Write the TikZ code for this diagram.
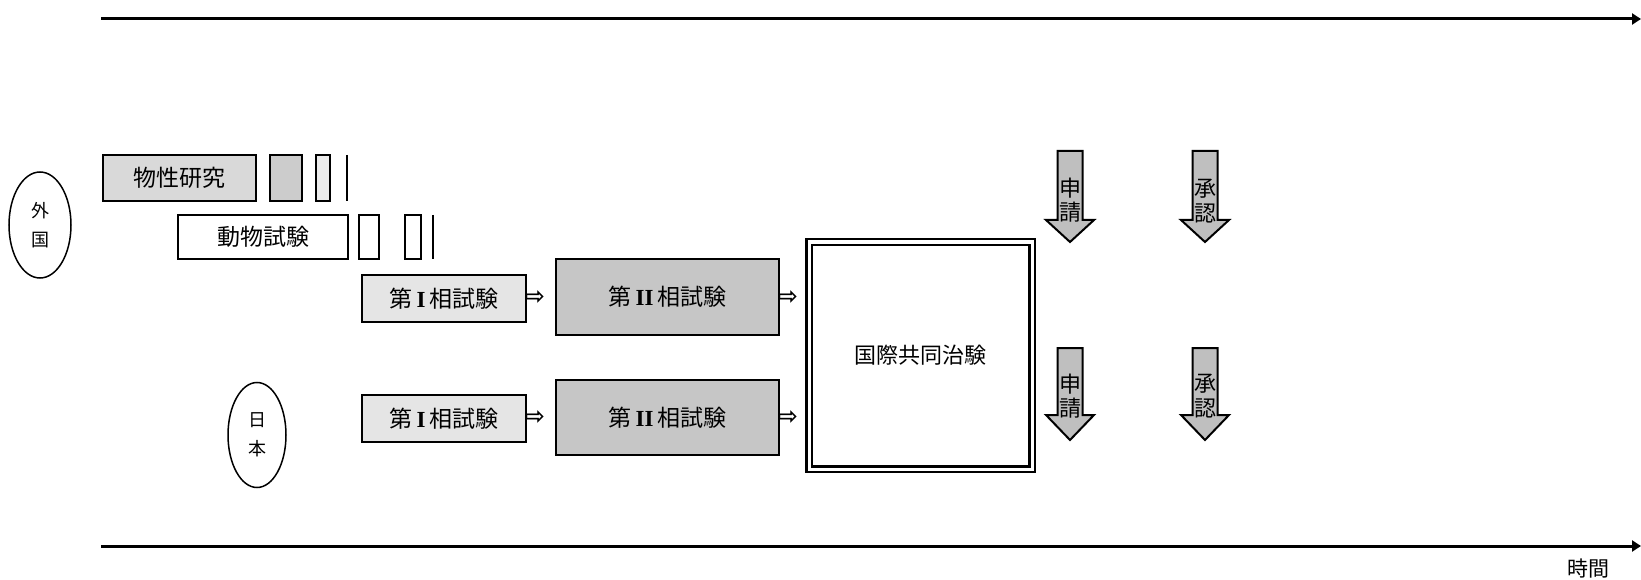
\documentclass[tikz,border=0pt]{standalone}
\usepackage{fontspec}
\setmainfont{Noto Sans CJK JP}
\newfontfamily\dejavu{DejaVu Sans}
\newfontfamily\romanfont{Liberation Serif}
\usetikzlibrary{arrows.meta,shapes.geometric}
\newcommand{\RI}{{\romanfont\bfseries I}}
\newcommand{\RII}{{\romanfont\bfseries II}}
\begin{document}
\begin{tikzpicture}[x=1pt,y=-1pt,
  box/.style={draw,line width=2pt,inner sep=0pt,font=\fontsize{23}{23}\selectfont},
  slim/.style={draw,line width=2pt,inner sep=0pt},
  oval/.style={draw,ellipse,line width=1.5pt,inner sep=0pt,align=center,font=\fontsize{18}{29}\selectfont},
  hollow/.style={inner sep=0pt,font=\dejavu\bfseries\fontsize{24}{24}\selectfont},
  axis/.style={line width=3pt,-{Triangle[length=9pt,width=11pt]}},
  downarrow/.style={draw,line width=2pt,fill=gray!50,line join=miter},
  arrowtext/.style={inner sep=0pt,font=\fontsize{22}{22}\selectfont}
]
\useasboundingbox (0,0) rectangle (1641,580);

% time axes
\coordinate (ta) at (101,19);
\coordinate (tb) at (1641,19);
\coordinate (ba) at (101,546);
\coordinate (bb) at (1641,546);
\draw[axis] (ta) -- (tb);
\draw[axis] (ba) -- (bb);
\node[font=\fontsize{21}{21}\selectfont,inner sep=0pt] (time) at (1588,569) {時間};

% country ovals
\node[oval,minimum width=62pt,minimum height=106pt] (gaikoku) at (40,225) {外\\国};
\node[oval,minimum width=58pt,minimum height=105pt] (nihon) at (257,435) {日\\本};

% foreign preclinical
\node[box,fill=gray!30,minimum width=153pt,minimum height=46pt] (bussei) at (179.5,178) {物性研究};
\node[slim,fill=gray!40,minimum width=32pt,minimum height=46pt] (bs1) at (286,178) {};
\node[slim,fill=gray!15,minimum width=14pt,minimum height=46pt] (bs2) at (323,178) {};
\draw[line width=2pt] (347,155) -- (347,201);

\node[box,minimum width=170pt,minimum height=44pt] (doubutsu) at (263,237) {動物試験};
\node[slim,minimum width=20pt,minimum height=44pt] (ds1) at (369,237) {};
\node[slim,minimum width=16pt,minimum height=44pt] (ds2) at (413,237) {};
\draw[line width=2pt] (433,215) -- (433,259);

% foreign phases
\node[box,fill=gray!20,minimum width=164pt,minimum height=47pt] (p1a) at (444,298.5) {第\,\RI\,相試験};
\node[hollow] (ha1) at (535,298) {⇨};
\node[box,fill=gray!45,minimum width=223pt,minimum height=76pt] (p2a) at (667.5,297) {第\,\RII\,相試験};
\node[hollow] (ha2) at (788,298) {⇨};

% japanese phases
\node[box,fill=gray!20,minimum width=164pt,minimum height=47pt] (p1b) at (444,418.5) {第\,\RI\,相試験};
\node[hollow] (hb1) at (535,418) {⇨};
\node[box,fill=gray!45,minimum width=223pt,minimum height=75pt] (p2b) at (667.5,417.5) {第\,\RII\,相試験};
\node[hollow] (hb2) at (788,418) {⇨};

% international joint trial
\node[draw,line width=2.5pt,double=white,double distance=3pt,minimum width=223pt,minimum height=227pt,
      inner sep=0pt,font=\fontsize{22}{22}\selectfont] (kokusai) at (920.5,355.5) {国際共同治験};

% down arrows
\foreach \cx/\ty/\by/\tip in {1070/151/220/242, 1205/151/220/242, 1070/348/415/440, 1205/348/415/440}{
  \draw[downarrow] (\cx-12.5,\ty) -- (\cx+12.5,\ty) -- (\cx+12.5,\by) -- (\cx+24,\by) -- (\cx,\tip)
     -- (\cx-24,\by) -- (\cx-12.5,\by) -- cycle;
}
\node[arrowtext] (aa1) at (1070,188) {申};
\node[arrowtext] (aa2) at (1070,212) {請};
\node[arrowtext] (ab1) at (1205,189) {承};
\node[arrowtext] (ab2) at (1205,213) {認};
\node[arrowtext] (ac1) at (1070,384) {申};
\node[arrowtext] (ac2) at (1070,408) {請};
\node[arrowtext] (ad1) at (1205,384) {承};
\node[arrowtext] (ad2) at (1205,408) {認};
\end{tikzpicture}
\end{document}
